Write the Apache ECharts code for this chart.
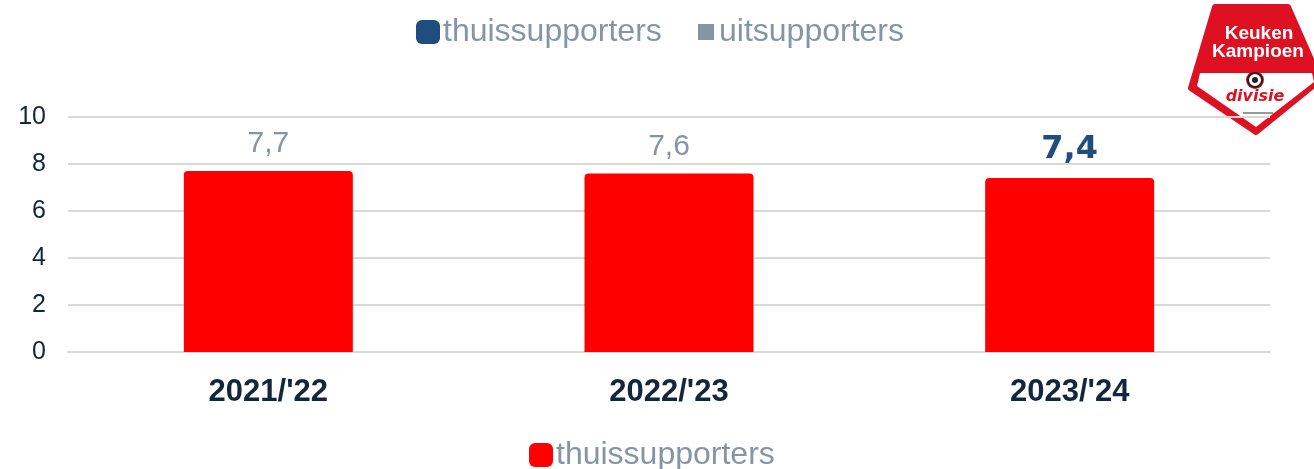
<!DOCTYPE html>
<html>
<head>
<meta charset="utf-8">
<script src="https://cdn.jsdelivr.net/npm/echarts@6/dist/echarts.min.js"></script>
<style>
  html, body { margin: 0; padding: 0; background: #fff; }
  #chart { width: 1314px; height: 469px; }
</style>
</head>
<body>
<div id="chart"></div>
<script>
const seasons = ["2021/'22", "2022/'23", "2023/'24"];
const thuisValues = [7.7, 7.6, 7.4];
const yTicks = [0, 2, 4, 6, 8, 10];

const font = "Liberation Sans, Arial, sans-serif";
const grey = "#8496a5";
const navy = "#12263d";

let chart = echarts.init(document.getElementById("chart"));

// last season label is highlighted like in the slide
const barData = thuisValues.map((v, i) => {
  const last = i === thuisValues.length - 1;
  return {
    value: v,
    label: last
      ? { color: "#1f4e7e", fontFamily: "DejaVu Sans", fontWeight: "bold", fontSize: 32 }
      : { color: grey, fontFamily: font, fontSize: 30 }
  };
});

// logo badge, top right
const red = "#dd1122";
const logo = {
  type: "group",
  children: [
    {
      type: "polygon",
      shape: { points: [[1215, 7], [1288, 7], [1320, 80], [1256, 132], [1191, 88]] },
      style: { fill: red, lineJoin: "round", stroke: red, lineWidth: 6 }
    },
    {
      type: "polygon",
      shape: { points: [[1200, 73], [1312, 73], [1314, 82], [1256, 127], [1197, 86]] },
      style: { fill: "#fff" }
    },
    {
      type: "text",
      style: { text: "Keuken", x: 1259, y: 34, align: "center", verticalAlign: "middle",
        fill: "#fff", font: "bold 19px Liberation Sans" }
    },
    {
      type: "text",
      style: { text: "Kampioen", x: 1258, y: 52, align: "center", verticalAlign: "middle",
        fill: "#fff", font: "bold 19px Liberation Sans" }
    },
    {
      type: "circle",
      shape: { cx: 1255, cy: 80, r: 9 },
      style: { fill: red }
    },
    {
      type: "circle",
      shape: { cx: 1255, cy: 80, r: 7 },
      style: { fill: "#fff", stroke: "#222", lineWidth: 2 }
    },
    {
      type: "circle",
      shape: { cx: 1255, cy: 80, r: 3 },
      style: { fill: "#222" }
    },
    {
      type: "text",
      style: { text: "divisie", x: 1255, y: 97, align: "center", verticalAlign: "middle",
        fill: red, font: "italic bold 16px DejaVu Sans" }
    },
    {
      type: "line",
      shape: { x1: 1243, y1: 113, x2: 1273, y2: 113 },
      style: { stroke: "#777", lineWidth: 1.5 }
    }
  ]
};

let option = {
  animation: false,
  grid: { left: 68, right: 44, top: 117, bottom: 117 },
  legend: [
    {
      data: [{ name: "thuissupporters", itemStyle: { color: "#1f4e7e" } }],
      left: 411, top: 11,
      icon: "roundRect", itemWidth: 24, itemHeight: 24,
      selectedMode: false,
      textStyle: { color: grey, fontSize: 32, fontFamily: font, padding: [0, 0, 0, -2] }
    },
    {
      data: [{ name: "uitsupporters", itemStyle: { color: grey } }],
      left: 693, top: 11,
      icon: "rect", itemWidth: 16, itemHeight: 16,
      selectedMode: false,
      textStyle: { color: grey, fontSize: 32, fontFamily: font }
    },
    {
      data: ["thuissupporters"],
      left: 524, top: 434,
      icon: "roundRect", itemWidth: 24, itemHeight: 24,
      selectedMode: false,
      textStyle: { color: grey, fontSize: 32, fontFamily: font, padding: [0, 0, 0, -2] }
    }
  ],
  xAxis: {
    type: "category",
    data: seasons,
    axisTick: { show: false },
    axisLine: { lineStyle: { color: "#d9d9d9", width: 2 } },
    axisLabel: {
      color: navy, fontSize: 31, fontWeight: "bold", fontFamily: font, margin: 25
    }
  },
  yAxis: {
    type: "value",
    min: yTicks[0],
    max: yTicks[yTicks.length - 1],
    interval: 2,
    axisLabel: { color: navy, fontSize: 25, fontFamily: font, margin: 22 },
    axisLine: { show: false },
    axisTick: { show: false },
    splitLine: { lineStyle: { color: "#d9d9d9", width: 2 } }
  },
  series: [
    {
      name: "thuissupporters",
      type: "bar",
      data: barData,
      barWidth: 169,
      itemStyle: { color: "#ff0000", borderRadius: [4, 4, 0, 0] },
      label: {
        show: true,
        position: "top",
        distance: 12,
        formatter: p => String(p.value).replace(".", ",")
      }
    },
    {
      name: "uitsupporters",
      type: "line",
      data: [],
      itemStyle: { color: grey }
    }
  ],
  graphic: [logo]
};

chart.setOption(option);
window.addEventListener("resize", () => chart.resize(), false);
</script>
</body>
</html>
